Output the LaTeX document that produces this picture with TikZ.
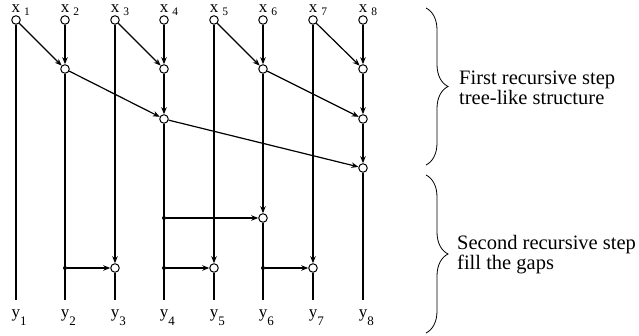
\documentclass[tikz,border=0pt]{standalone}
\usepackage{fontspec}
\setmainfont{Liberation Serif}
\usetikzlibrary{arrows.meta,decorations.pathreplacing}
\begin{document}
\begin{tikzpicture}[x=1pt,y=-1pt,
  nd/.style={circle,draw,fill=white,line width=1pt,minimum size=8.5pt,inner sep=0pt},
  dt/.style={circle,fill=black,minimum size=4pt,inner sep=0pt},
  wire/.style={line width=1.2pt},
  arr/.style={wire,-{Stealth[length=7pt,width=5.5pt]}},
  xlab/.style={anchor=base,inner sep=0pt,font=\fontsize{17}{17}\selectfont},
  br/.style={decorate,decoration={brace,amplitude=22pt},line width=0.8pt},
  txt/.style={anchor=west,align=left,inner sep=0pt,font=\fontsize{20.5}{20}\selectfont}]
\useasboundingbox (0,0) rectangle (639,336);
% columns
\foreach \i/\x in {1/16,2/65,3/115,4/164,5/214,6/263,7/313,8/363}{
  \node[nd] (t\i) at (\x,20) {};
  \coordinate (z\i) at (\x,300);
  \node[xlab] (xl\i) at (\x,12.7) {x\rlap{\hspace{4pt}\raisebox{-3pt}{\fontsize{11.5}{11.5}\selectfont\i}}};
  \node[xlab] (yl\i) at (\x,317) {y\rlap{\raisebox{-8pt}{\fontsize{13}{13}\selectfont\i}}};
}
% first step nodes
\node[nd] (a2) at (65,69) {};
\node[nd] (a4) at (164,69) {};
\node[nd] (a6) at (263,69) {};
\node[nd] (a8) at (363,69) {};
\node[nd] (b4) at (164,119) {};
\node[nd] (b8) at (363,119) {};
\node[nd] (c8) at (363,168) {};
% second step nodes
\node[nd] (d6) at (263,218) {};
\node[nd] (e3) at (115,268) {};
\node[nd] (e5) at (214,268) {};
\node[nd] (e7) at (313,268) {};
\node[dt] (p4) at (164,218) {};
\node[dt] (q2) at (65,268) {};
\node[dt] (q4) at (164,268) {};
\node[dt] (q6) at (263,268) {};
% vertical wires
\draw[wire] (t1) -- (z1);
\draw[arr] (t2) -- (a2);
\draw[wire] (a2) -- (z2);
\draw[arr] (t3) -- (e3);
\draw[wire] (e3) -- (z3);
\draw[arr] (t4) -- (a4);
\draw[arr] (a4) -- (b4);
\draw[wire] (b4) -- (z4);
\draw[arr] (t5) -- (e5);
\draw[wire] (e5) -- (z5);
\draw[arr] (t6) -- (a6);
\draw[arr] (a6) -- (d6);
\draw[wire] (d6) -- (z6);
\draw[arr] (t7) -- (e7);
\draw[wire] (e7) -- (z7);
\draw[arr] (t8) -- (a8);
\draw[arr] (a8) -- (b8);
\draw[arr] (b8) -- (c8);
\draw[wire] (c8) -- (z8);
% diagonal wires
\draw[arr] (t1) -- (a2);
\draw[arr] (t3) -- (a4);
\draw[arr] (t5) -- (a6);
\draw[arr] (t7) -- (a8);
\draw[arr] (a2) -- (b4);
\draw[arr] (a6) -- (b8);
\draw[arr] (b4) -- (c8);
% horizontal wires
\draw[arr] (p4) -- (d6);
\draw[arr] (q2) -- (e3);
\draw[arr] (q4) -- (e5);
\draw[arr] (q6) -- (e7);
% braces
\coordinate (bA1) at (426,8);
\coordinate (bA2) at (426,165);
\coordinate (bB1) at (426,175);
\coordinate (bB2) at (426,333);
\draw[br] (bA1) -- (bA2);
\draw[br] (bB1) -- (bB2);
\node[txt] (s1) at (459,88) {First recursive step\\tree-like structure};
\node[txt] (s2) at (457,255) {Second recursive step\\fill the gaps};
\end{tikzpicture}
\end{document}
